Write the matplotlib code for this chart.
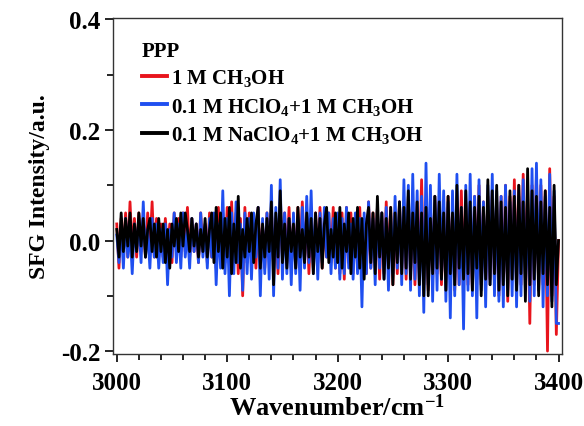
import numpy as np
import matplotlib
matplotlib.use("Agg")
import matplotlib.pyplot as plt
from matplotlib.ticker import MultipleLocator

# Wavenumber grid (cm^-1), one value every 2 cm^-1
wavenumber = np.arange(3000, 3401, 2)

# 1 M CH3OH (red)
red = [
    0.03, -0.05, 0.04, -0.02, 0.05, -0.03, 0.07, -0.02, 0.04, -0.03,
    0.05, -0.02, 0.04, -0.03, 0.05, -0.02, 0.07, -0.03, 0.04, -0.02,
    0.03, -0.03, 0.04, -0.02, 0.03, -0.04, 0.05, -0.02, 0.04, -0.03,
    0.05, -0.02, 0.06, -0.03, 0.04, -0.02, 0.03, -0.04, 0.05, -0.02,
    0.03, -0.04, 0.05, -0.03, 0.04, -0.05, 0.06, -0.03, 0.05, -0.04,
    0.06, -0.05, 0.07, -0.04, 0.05, -0.06, 0.04, -0.10, 0.06, -0.04,
    0.05, -0.03, 0.04, -0.05, 0.06, -0.04, 0.03, -0.05, 0.05, -0.03,
    0.06, -0.05, 0.04, -0.06, 0.07, -0.03, 0.05, -0.04, 0.06, -0.05,
    0.04, -0.05, 0.06, -0.03, 0.07, -0.04, 0.05, -0.06, 0.04, -0.05,
    0.05, -0.04, 0.06, -0.05, 0.04, -0.03, 0.05, -0.04, 0.06, -0.05,
    0.04, -0.06, 0.05, -0.07, 0.06, -0.04, 0.05, -0.06, 0.04, -0.05,
    0.06, -0.05, 0.04, -0.06, 0.07, -0.05, 0.05, -0.04, 0.06, -0.07,
    0.05, -0.06, 0.07, -0.05, 0.06, -0.08, 0.05, -0.06, 0.07, -0.05,
    0.06, -0.07, 0.08, -0.06, 0.05, -0.08, 0.07, -0.06, 0.11, -0.08,
    0.07, -0.09, 0.06, -0.07, 0.08, -0.06, 0.07, -0.08, 0.06, -0.09,
    0.08, -0.07, 0.06, -0.09, 0.07, -0.08, 0.09, -0.06, 0.07, -0.08,
    0.06, -0.09, 0.08, -0.07, 0.10, -0.08, 0.07, -0.09, 0.08, -0.07,
    0.09, -0.08, 0.07, -0.10, 0.08, -0.09, 0.10, -0.11, 0.08, -0.07,
    0.11, -0.09, 0.10, -0.08, 0.12, -0.07, 0.09, -0.15, 0.10, -0.08,
    0.12, -0.09, 0.10, -0.08, 0.09, -0.20, 0.13, -0.10, 0.08, -0.17,
    0.00,
]

# 0.1 M HClO4 + 1 M CH3OH (blue)
blue = [
    0.01, -0.04, 0.03, -0.05, 0.04, -0.03, 0.02, -0.06, 0.03, -0.02,
    0.04, -0.04, 0.07, -0.03, 0.02, -0.05, 0.04, -0.03, 0.03, -0.05,
    0.02, -0.04, 0.03, -0.08, 0.02, -0.03, 0.05, -0.04, 0.03, -0.05,
    0.05, -0.03, 0.02, -0.05, 0.04, -0.02, 0.03, -0.04, 0.05, -0.03,
    0.02, -0.05, 0.04, -0.03, 0.05, -0.08, 0.03, -0.05, 0.09, -0.06,
    0.04, -0.10, 0.05, -0.06, 0.07, -0.04, 0.03, -0.09, 0.05, -0.06,
    0.04, -0.07, 0.05, -0.03, 0.06, -0.10, 0.04, -0.06, 0.05, -0.07,
    0.10, -0.10, 0.06, -0.05, 0.11, -0.07, 0.05, -0.06, 0.04, -0.08,
    0.05, -0.06, 0.04, -0.09, 0.06, -0.05, 0.08, -0.04, 0.09, -0.06,
    0.04, -0.07, 0.05, -0.04, 0.06, -0.03, 0.05, -0.06, 0.04, -0.05,
    0.05, -0.07, 0.04, -0.06, 0.06, -0.05, 0.03, -0.07, 0.05, -0.06,
    0.04, -0.12, 0.05, -0.06, 0.07, -0.05, 0.04, -0.08, 0.06, -0.05,
    0.05, -0.07, 0.06, -0.09, 0.05, -0.06, 0.08, -0.05, 0.07, -0.08,
    0.11, -0.06, 0.10, -0.09, 0.12, -0.07, 0.09, -0.10, 0.08, -0.13,
    0.14, -0.08, 0.10, -0.11, 0.08, -0.09, 0.12, -0.07, 0.09, -0.11,
    0.07, -0.14, 0.09, -0.10, 0.12, -0.08, 0.06, -0.16, 0.10, -0.09,
    0.12, -0.10, 0.08, -0.14, 0.11, -0.09, 0.07, -0.12, 0.10, -0.08,
    0.12, -0.10, 0.09, -0.11, 0.08, -0.12, 0.10, -0.09, 0.07, -0.10,
    0.09, -0.12, 0.08, -0.10, 0.11, -0.09, 0.07, -0.11, 0.13, -0.10,
    0.14, -0.09, 0.11, -0.12, 0.08, -0.10, 0.12, -0.11, 0.09, -0.15,
    -0.15,
]

# 0.1 M NaClO4 + 1 M CH3OH (black)
black = [
    0.02, -0.03, 0.05, -0.02, 0.04, -0.01, 0.05, -0.03, 0.03, -0.02,
    0.05, -0.01, 0.04, -0.03, 0.02, 0.04, -0.02, 0.03, -0.03, 0.04,
    -0.02, 0.03, -0.04, 0.02, -0.05, 0.03, -0.01, 0.04, -0.02, 0.05,
    -0.01, 0.05, 0.02, -0.02, 0.04, -0.01, 0.03, -0.03, 0.02, -0.02,
    0.04, -0.03, 0.02, 0.05, -0.04, 0.06, -0.02, 0.05, -0.05, 0.04,
    -0.03, 0.06, -0.06, 0.03, -0.04, 0.08, -0.05, 0.02, -0.03, 0.04,
    -0.02, 0.05, -0.04, 0.03, 0.06, -0.05, 0.03, -0.03, 0.04, -0.02,
    0.07, -0.08, 0.05, -0.03, 0.09, -0.04, 0.03, -0.05, 0.04, -0.02,
    0.03, -0.05, 0.06, -0.03, 0.02, -0.04, 0.05, -0.03, 0.04, -0.06,
    0.05, -0.02, 0.04, -0.05, 0.03, 0.06, -0.04, 0.02, -0.03, 0.05,
    -0.04, 0.06, -0.05, 0.03, -0.02, 0.05, -0.06, 0.04, -0.03, 0.06,
    -0.05, 0.04, -0.07, 0.03, 0.06, -0.04, 0.05, -0.06, 0.08, -0.03,
    0.05, -0.07, 0.04, -0.05, 0.06, -0.08, 0.05, -0.04, 0.07, -0.06,
    0.06, -0.05, 0.09, -0.07, 0.05, -0.04, 0.07, -0.08, 0.05, -0.10,
    0.06, -0.10, 0.04, -0.06, 0.08, -0.05, 0.07, -0.07, 0.05, -0.09,
    0.08, -0.06, 0.05, -0.08, 0.10, -0.05, 0.06, -0.07, 0.09, -0.06,
    0.07, -0.09, 0.06, -0.05, 0.08, -0.10, 0.06, -0.07, 0.11, -0.08,
    0.09, -0.06, 0.10, -0.09, 0.07, -0.08, 0.06, -0.10, 0.09, -0.07,
    0.08, -0.09, 0.10, -0.06, 0.07, -0.11, 0.13, -0.08, 0.09, -0.07,
    0.08, -0.10, 0.07, -0.06, 0.09, -0.08, 0.06, -0.12, 0.10, -0.08,
    0.00,
]

labels = ["1 M CH$_3$OH",
          "0.1 M HClO$_4$+1 M CH$_3$OH",
          "0.1 M NaClO$_4$+1 M CH$_3$OH"]
colors = ["#e8141c", "#1f4ff0", "#000000"]

plt.rcParams["font.family"] = ["Liberation Serif", "DejaVu Serif"]
plt.rcParams["font.weight"] = "bold"
plt.rcParams["mathtext.fontset"] = "custom"
plt.rcParams["mathtext.rm"] = "Liberation Serif:bold"
plt.rcParams["mathtext.default"] = "rm"

fig = plt.figure(figsize=(5.84, 4.27), dpi=100)
ax = fig.add_axes([0.1935, 0.169, 0.768, 0.787])

for y, c, lab in zip([red, blue, black], colors, labels):
    ax.plot(wavenumber, y, color=c, lw=2.0, label=lab)

ax.set_xlim(2996.6, 3402.7)
ax.set_ylim(-0.205, 0.403)
ax.xaxis.set_major_locator(MultipleLocator(100))
ax.xaxis.set_minor_locator(MultipleLocator(20))
ax.yaxis.set_major_locator(MultipleLocator(0.2))
ax.yaxis.set_minor_locator(MultipleLocator(0.1))
ax.tick_params(which="major", direction="out", length=6, width=1.2, labelsize=18)
ax.tick_params(which="minor", direction="out", length=4, width=1.2)
ax.tick_params(axis="x", which="major", pad=6)
ax.tick_params(axis="y", which="major", pad=3)
ax.tick_params(top=False, right=False)
ax.set_yticks([-0.2, 0.0, 0.2, 0.4])
ax.set_yticklabels(["-0.2", "0.0", "0.2", "0.4"])
for s in ax.spines.values():
    s.set_color("#333333")
    s.set_linewidth(1.0)

ax.set_xlabel("Wavenumber/cm$^{\\mathrm{-1}}$", fontsize=19, fontweight="bold", labelpad=0)
ax.set_ylabel("SFG Intensity/a.u.", fontsize=17, fontweight="bold", labelpad=8)

leg = ax.legend(loc="upper left", bbox_to_anchor=(0.045, 0.955), frameon=False,
                title="PPP", fontsize=15, title_fontsize=15, handlelength=1.2,
                handletextpad=0.2, labelspacing=0.3, borderaxespad=0)
leg.get_title().set_fontweight("bold")
leg._legend_box.align = "left"
for line in leg.get_lines():
    line.set_linewidth(2.8)

fig.savefig("out.png", dpi=100)
